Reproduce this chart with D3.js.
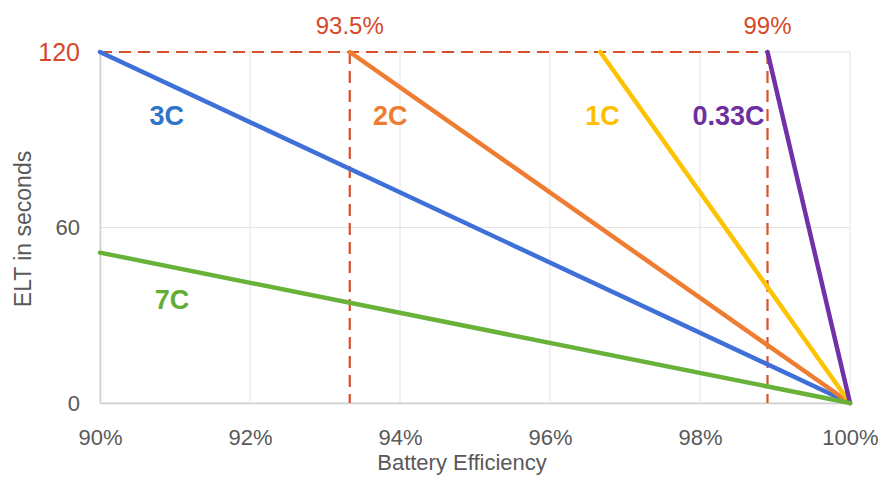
<!DOCTYPE html>
<html><head><meta charset="utf-8">
<script src="https://cdn.jsdelivr.net/npm/d3@7"></script>
<style>body{margin:0;background:#fff}svg{display:block}</style>
</head><body>
<svg id="c" width="882" height="477"></svg>
<script>
const xTicks = [0.90, 0.92, 0.94, 0.96, 0.98, 1.00];
const yTicks = [0, 60, 120];
const seriesNames = ["3C", "2C", "1C", "0.33C", "7C"];
const seriesColors = ["#3f6fd8", "#ef7d31", "#fdc300", "#7231a8", "#68b23a"];
const labelColors = ["#2e74c8", "#ef7d31", "#fdc000", "#6e2fa0", "#62ad35"];
// start points (efficiency, ELT) and end points
const startEff = [0.90, 0.9333, 0.9667, 0.989, 0.90];
const startELT = [120, 120, 120, 120, 51.4];
const endEff = [1.00, 1.00, 1.00, 1.00, 1.00];
const endELT = [0, 0, 0, 0, 0];
const labelEff = [0.9089, 0.9387, 0.967, 0.9838, 0.9096];
const labelELT = [95.2, 95.2, 95.2, 95.2, 32];
const markEff = [0.9333, 0.989];
const markText = ["93.5%", "99%"];
const markELT = 120;

const svg = d3.select("#c");
const x = d3.scaleLinear().domain([0.90, 1.00]).range([100, 850]);
const y = d3.scaleLinear().domain([0, 120]).range([403, 52]);
const font = "'Liberation Sans', Arial, sans-serif";

// gridlines
svg.append("g").selectAll("line.v").data(xTicks).join("line")
  .attr("x1", d => x(d)).attr("x2", d => x(d)).attr("y1", y(120)).attr("y2", y(0))
  .attr("stroke", "#e3e3e3").attr("stroke-width", 1);
svg.append("g").selectAll("line.h").data(yTicks).join("line")
  .attr("x1", x(0.90)).attr("x2", x(1.00)).attr("y1", d => y(d)).attr("y2", d => y(d))
  .attr("stroke", "#e3e3e3").attr("stroke-width", 1);

// axes
const xAxis = d3.axisBottom(x).tickValues(xTicks).tickFormat(d3.format(".0%")).tickSize(0).tickPadding(26);
const gx = svg.append("g").attr("transform", `translate(0,${y(0)})`).call(xAxis);
gx.select(".domain").attr("stroke", "#d0d0d0").attr("stroke-width", 1.5);
gx.selectAll("text").attr("font-family", font).attr("font-size", 22).attr("fill", "#595959");

const yAxis = d3.axisLeft(y).tickValues(yTicks).tickSize(0).tickPadding(20);
const gy = svg.append("g").attr("transform", `translate(${x(0.90)},0)`).call(yAxis);
gy.select(".domain").attr("stroke", "#d0d0d0").attr("stroke-width", 1.5);
gy.selectAll("text").attr("font-family", font)
  .attr("font-size", d => d === 120 ? 25 : 22)
  .attr("fill", d => d === 120 ? "#d5492a" : "#595959");

// axis titles
svg.append("text").attr("x", 462).attr("y", 470).attr("text-anchor", "middle")
  .attr("font-family", font).attr("font-size", 22).attr("fill", "#595959").text("Battery Efficiency");
svg.append("text").attr("transform", "translate(31,229) rotate(-90)").attr("text-anchor", "middle")
  .attr("font-family", font).attr("font-size", 23).attr("fill", "#595959").text("ELT in seconds");

// dashed reference lines
const dashCol = "#d9512c";
svg.append("line").attr("x1", x(0.90)).attr("x2", x(markEff[1])).attr("y1", y(markELT)).attr("y2", y(markELT))
  .attr("stroke", dashCol).attr("stroke-width", 2.2).attr("stroke-dasharray", "12,7");
svg.append("g").selectAll("line").data(markEff).join("line")
  .attr("x1", d => x(d)).attr("x2", d => x(d)).attr("y1", y(markELT)).attr("y2", y(0))
  .attr("stroke", dashCol).attr("stroke-width", 2.2).attr("stroke-dasharray", "12,7");
svg.append("g").selectAll("text").data(markEff).join("text")
  .attr("x", d => x(d)).attr("y", 34).attr("text-anchor", "middle")
  .attr("font-family", font).attr("font-size", 24).attr("fill", "#d5492a")
  .text((d, i) => markText[i]);

// series lines
const line = d3.line().x(d => x(d[0])).y(d => y(d[1]));
seriesNames.forEach((n, i) => {
  svg.append("path").datum([[startEff[i], startELT[i]], [endEff[i], endELT[i]]])
    .attr("d", line).attr("fill", "none").attr("stroke", seriesColors[i])
    .attr("stroke-width", 4.5).attr("stroke-linecap", "round");
});

// series labels
svg.append("g").selectAll("text").data(seriesNames).join("text")
  .attr("x", (d, i) => x(labelEff[i])).attr("y", (d, i) => y(labelELT[i]))
  .attr("text-anchor", "middle")
  .attr("font-family", font).attr("font-weight", "bold")
  .attr("font-size", 27).attr("fill", (d, i) => labelColors[i]).text(d => d);
</script>
</body></html>
